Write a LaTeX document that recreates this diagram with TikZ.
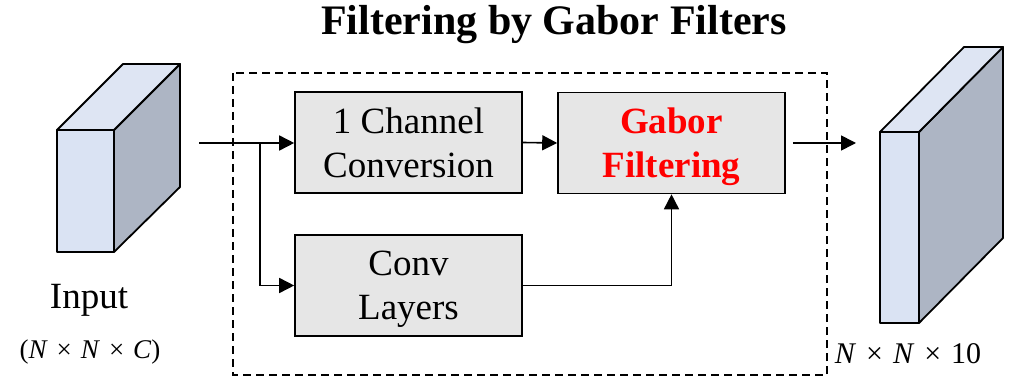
\documentclass[tikz,border=0pt]{standalone}
\usepackage{fontspec}
\setmainfont{Liberation Serif}
\usetikzlibrary{arrows.meta}

\definecolor{faceFront}{HTML}{DAE3F3}
\definecolor{faceTop}{HTML}{DEE5F3}
\definecolor{faceSide}{HTML}{ADB5C4}
\definecolor{blkFill}{HTML}{E6E6E6}

% spaced multiplication sign for the tensor sizes
\newcommand{\tmul}{\hspace{0.33em}×\hspace{0.33em}}

\tikzset{
  blk/.style={draw=black, line width=1.6pt, fill=blkFill, inner sep=0pt,
    minimum width=227pt, minimum height=101pt, align=center, text depth=0pt,
    font=\fontsize{37}{44}\selectfont},
  arr/.style={line width=1.6pt, -{Triangle[length=15pt,width=15pt]}},
  cubeline/.style={draw=black, line width=1.8pt, line join=round},
  frame/.style={draw=black, line width=1.8pt, dash pattern=on 8pt off 5pt},
  lbl/.style={font=\fontsize{37}{44}\selectfont, inner sep=0pt},
}

\begin{document}
\begin{tikzpicture}[x=1pt, y=-1pt]
  \useasboundingbox (0,0) rectangle (1017,382);

  % title
  \node[inner sep=0pt, font=\bfseries\fontsize{42}{50}\selectfont] (title) at (554,25) {Filtering by Gabor Filters};

  % dashed frame around the filtering stage
  \draw[frame] (233,73) rectangle (827,375);

  % input tensor
  \filldraw[cubeline, fill=faceSide] (114,130) -- (180,64) -- (180,187) -- (114,252) -- cycle;
  \filldraw[cubeline, fill=faceTop] (57,130) -- (123,64) -- (180,64) -- (114,130) -- cycle;
  \filldraw[cubeline, fill=faceFront] (57,130) rectangle (114,252);

  % output tensor
  \filldraw[cubeline, fill=faceSide] (919,132) -- (1003,47) -- (1003,238) -- (919,323) -- cycle;
  \filldraw[cubeline, fill=faceTop] (880,132) -- (964,47) -- (1003,47) -- (919,132) -- cycle;
  \filldraw[cubeline, fill=faceFront] (880,132) rectangle (919,323);

  % labels under the tensors
  \node[lbl] (inLabel) at (89,300) {Input};
  \node[inner sep=0pt, font=\fontsize{27}{32}\selectfont] (inSize) at (90,352)
    {(\textit{N}\tmul\textit{N}\tmul\textit{C})};
  \node[inner sep=0pt, font=\fontsize{30}{36}\selectfont] (outSize) at (908,354)
    {\textit{N}\tmul\textit{N}\tmul 10};

  % processing blocks
  \node[blk] (cc) at (408.5,142.5) {1 Channel\\Conversion};
  \node[blk] (conv) at (408.5,285.5) {Conv\\Layers};
  \node[blk, text=red, font=\bfseries\fontsize{37}{44}\selectfont] (gab) at (671.5,143) {Gabor\\Filtering};

  % connectors
  \coordinate (inStart) at (199,143);
  \coordinate (branch) at (260,143);
  \coordinate (outEnd) at (856,143);

  \draw[arr] (inStart) -- (cc.west |- inStart);
  \draw[arr] (branch) |- (conv.west);
  \draw[arr] (cc.east) -- (gab.west);
  \draw[arr] (conv.east) -| (gab.south);
  \draw[arr] ([xshift=7pt]gab.east) -- (outEnd);
\end{tikzpicture}
\end{document}
